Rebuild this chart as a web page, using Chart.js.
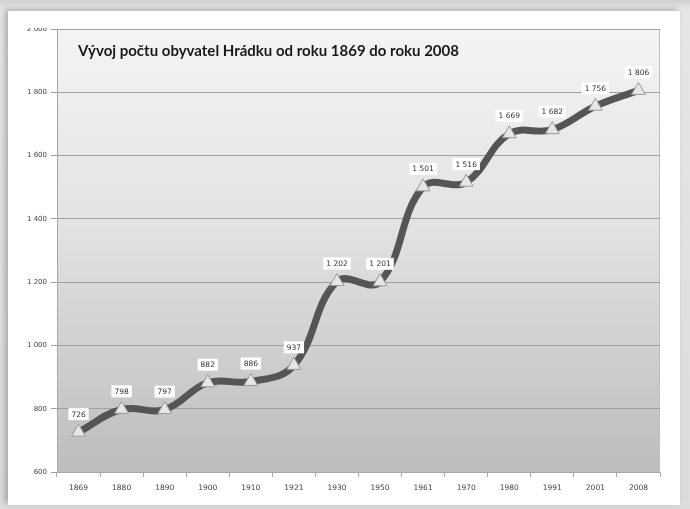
<!DOCTYPE html>
<html><head><meta charset="utf-8">
<script src="https://cdn.jsdelivr.net/npm/chart.js@4/dist/chart.umd.min.js"></script>
<style>
html,body{margin:0;padding:0;width:690px;height:509px;overflow:hidden;}
body{background:linear-gradient(180deg,#cfcfcf 0px,#e6e6e6 8px,#dcdcdc 100%);position:relative;}
#card{position:absolute;left:8px;top:11px;width:672px;height:494px;background:#fff;box-shadow:-3px -2px 6px rgba(0,0,0,0.25);}
#wrap{position:absolute;left:0px;top:17px;width:672px;height:477px;}
</style></head>
<body>
<div id="card"><div id="wrap"><canvas id="c" width="672" height="477"></canvas></div></div>
<script>
const years = ["1869","1880","1890","1900","1910","1921","1930","1950","1961","1970","1980","1991","2001","2008"];
const population = [726,798,797,882,886,937,1202,1201,1501,1516,1669,1682,1756,1806];
const yTicks = [600,800,1000,1200,1400,1600,1800,2000];
const chartTitle = "Vývoj počtu obyvatel Hrádku od roku 1869 do roku 2008";

function fmt(v){ return v >= 1000 ? String(v).replace(/(\d)(?=(\d{3})+$)/, "$1 ") : String(v); }

const bgPlugin = {
  id:'bg',
  beforeDraw(chart){
    const {ctx, chartArea:a} = chart;
    const g = ctx.createLinearGradient(0,a.top,0,a.bottom);
    g.addColorStop(0,'#f4f4f4');
    g.addColorStop(0.45,'#e2e2e2');
    g.addColorStop(1,'#bdbdbd');
    ctx.save();
    ctx.fillStyle = g;
    ctx.fillRect(a.left,a.top,a.right-a.left,a.bottom-a.top);
    ctx.strokeStyle = '#bfbfbf';
    ctx.lineWidth = 1;
    ctx.strokeRect(a.left+0.5,a.top+0.5,a.right-a.left-1,a.bottom-a.top-1);
    ctx.restore();
  },
  afterDatasetsDraw(chart){
    const {ctx, chartArea:a} = chart;
    ctx.save();
    ctx.font = 'bold 15px Lato, "Open Sans", sans-serif';
    ctx.fillStyle = '#1a1a1a';
    ctx.textBaseline = 'middle';
    ctx.fillText(chartTitle, a.left + 21, a.top + 22);
    const meta = chart.getDatasetMeta(0);
    ctx.font = '7.5px "DejaVu Sans", sans-serif';
    ctx.textAlign = 'center';
    meta.data.forEach((pt,i)=>{
      const t = fmt(population[i]);
      const w = ctx.measureText(t).width + 6;
      const h = 12;
      const cx = pt.x, cy = pt.y - 18;
      ctx.fillStyle = '#ffffff';
      ctx.fillRect(cx - w/2, cy - h/2, w, h);
      ctx.fillStyle = '#333';
      ctx.fillText(t, cx, cy + 0.5);
    });
    ctx.restore();
  }
};

new Chart(document.getElementById('c'), {
  type:'line',
  data:{
    labels: years,
    datasets:[{
      data: population,
      borderColor:'#555555',
      borderWidth:7,
      tension:0.4,
      pointStyle:'triangle',
      pointRadius:8,
      pointBackgroundColor:'#e6e6e6',
      pointBorderColor:'#9a9a9a',
      pointBorderWidth:1,
      fill:false
    }]
  },
  options:{
    responsive:false,
    animation:false,
    devicePixelRatio:1,
    layout:{padding:{top:1,right:20,left:0,bottom:0},autoPadding:false},
    plugins:{legend:{display:false},tooltip:{enabled:false},title:{display:false}},
    scales:{
      x:{
        offset:true,
        grid:{offset:true,drawOnChartArea:false,color:'#a8a8a8',tickLength:5},
        border:{color:'#a8a8a8'},
        ticks:{color:'#444',font:{size:7.5,family:'"DejaVu Sans", sans-serif'},padding:7,maxRotation:0,autoSkip:false},
        afterFit(s){ s.height = 33; s.paddingLeft = 0; s.paddingRight = 0; }
      },
      y:{
        min:600,max:2000,
        afterBuildTicks(s){ s.ticks = yTicks.map(v=>({value:v})); },
        grid:{color:'#a0a0a0',tickLength:6,lineWidth:1},
        border:{color:'#a8a8a8'},
        ticks:{color:'#444',font:{size:7,family:'"DejaVu Sans", sans-serif'},padding:4,callback:(v)=>fmt(v)},
        afterFit(s){ s.width = 49; s.paddingTop = 0; s.paddingBottom = 0; }
      }
    }
  },
  plugins:[bgPlugin]
});
</script>
</body></html>
